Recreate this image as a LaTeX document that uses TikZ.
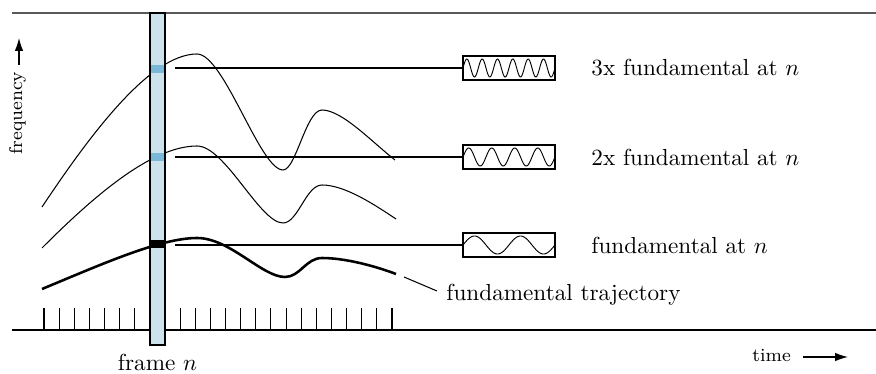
\documentclass[tikz,border=0pt]{standalone}
\usepackage{tikz}
\usetikzlibrary{arrows.meta}
\definecolor{framebg}{RGB}{204,227,236}
\definecolor{framehl}{RGB}{122,184,216}
\tikzset{
  crv/.style={draw=black,line width=.45pt},
  crvb/.style={draw=black,line width=1.1pt},
  lnk/.style={draw=black,line width=.45pt},
  wbox/.style={rectangle,draw=black,line width=.9pt,minimum width=39.6pt,minimum height=10.3pt,inner sep=0pt},
  wave/.style={draw=black,line width=.4pt},
  lb/.style={font=\normalsize,inner sep=0pt},
  tb/.style={font=\footnotesize,inner sep=0pt},
  tk/.style={draw=black,line width=.45pt},
  ax/.style={draw=black,line width=.8pt},
  ptr/.style={-{Latex[length=5.5pt,width=3.6pt]},line width=.5pt,draw=black},
}

\begin{document}
\begin{tikzpicture}[x=.431pt,y=-.431pt]
\useasboundingbox (0,0) rectangle (876,374);
% top rule, time axis and one tick per frame
\draw[draw=black!65,line width=.45pt] (12,13) -- (876,13);
\draw[ax] (12,330) -- (876,330);
\foreach \i in {0,...,23}
  \draw[tk] ({44+15.13*\i},308) -- ({44+15.13*\i},330);
% the three partial trajectories, thick one is the fundamental
\draw[crv] (42,207) .. controls (90,135) and (150,54) .. (197,54)
  .. controls (224,54) and (260,170) .. (283,170)
  .. controls (296,170) and (306,110) .. (322,110)
  .. controls (342,110) and (372,142) .. (395,160);
\draw[crv] (42,248) .. controls (90,200) and (150,146) .. (197,146)
  .. controls (225,146) and (260,223) .. (283,223)
  .. controls (298,223) and (306,185) .. (322,185)
  .. controls (345,185) and (375,205) .. (396,219);
\draw[crvb] (42,289) .. controls (100,265) and (160,238) .. (197,238)
  .. controls (230,238) and (262,277) .. (285,277)
  .. controls (300,277) and (306,258) .. (322,258)
  .. controls (345,258) and (375,266) .. (396,274);
% frame n, with the three values picked out
\draw[draw=black,line width=.6pt,fill=framebg] (150,13) rectangle (165,345);
\fill[framehl] (150.6,65) rectangle (164.4,73);
\fill[framehl] (150.6,153) rectangle (164.4,161);
\fill[black] (150.6,240) rectangle (164.4,248);
\node[lb,anchor=base] (lfr) at (157.5,371) {frame $n$};
% one sinusoid per partial
\foreach \y/\k/\nm/\txt in {68/6/3/{3x fundamental at $n$},157/4/2/{2x fundamental at $n$},245/2/1/{fundamental at $n$}} {
  \coordinate (h\nm) at (175,\y);
  \node[wbox] (b\nm) at (509,\y) {};
  \draw[lnk] (h\nm) -- (b\nm);
  \draw[wave] plot[domain=0:1,samples=120] ({463+92*\x},{\y-9*sin(\k*360*\x)});
  \node[lb,anchor=west] (l\nm) at (591,\y) {\txt};
}
% trajectory label
\coordinate (t0) at (404,277); \coordinate (t1) at (437,291);
\draw[lnk] (t0) -- (t1);
\node[lb,anchor=west] (ltr) at (446,295) {fundamental trajectory};
% axis names
\node[tb,anchor=base west] (ltm) at (752,362) {time};
\coordinate (tm0) at (803,357); \coordinate (tm1) at (848,357);
\draw[ptr] (tm0) -- (tm1);
\node[tb,rotate=90] (lfq) at (17.5,113) {frequency};
\coordinate (fq0) at (19,65); \coordinate (fq1) at (19,38);
\draw[ptr] (fq0) -- (fq1);
\end{tikzpicture}
\end{document}
